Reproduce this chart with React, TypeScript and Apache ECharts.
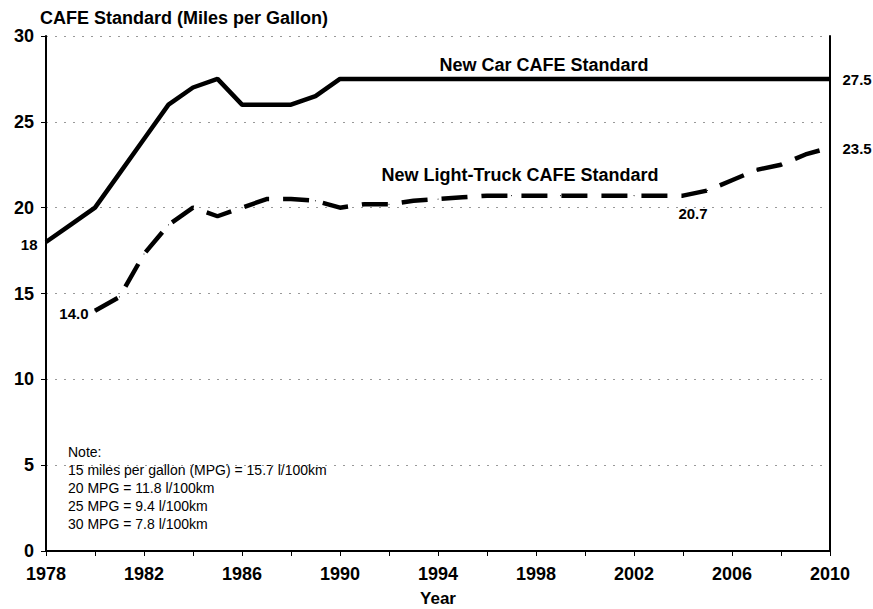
import React, { useEffect, useRef } from "react";
import * as echarts from "echarts";

const carYears = [1978, 1979, 1980, 1981, 1982, 1983, 1984, 1985, 1986, 1987, 1988, 1989, 1990, 1991, 1992, 1993, 1994, 1995, 1996, 1997, 1998, 1999, 2000, 2001, 2002, 2003, 2004, 2005, 2006, 2007, 2008, 2009, 2010];
const carValues = [18, 19, 20, 22, 24, 26, 27, 27.5, 26, 26, 26, 26.5, 27.5, 27.5, 27.5, 27.5, 27.5, 27.5, 27.5, 27.5, 27.5, 27.5, 27.5, 27.5, 27.5, 27.5, 27.5, 27.5, 27.5, 27.5, 27.5, 27.5, 27.5];
const truckYears = [1980, 1981, 1982, 1983, 1984, 1985, 1986, 1987, 1988, 1989, 1990, 1991, 1992, 1993, 1994, 1995, 1996, 1997, 1998, 1999, 2000, 2001, 2002, 2003, 2004, 2005, 2006, 2007, 2008, 2009, 2010];
const truckValues = [14.0, 14.8, 17.3, 19.0, 20.0, 19.5, 20.0, 20.5, 20.5, 20.4, 20.0, 20.2, 20.2, 20.4, 20.5, 20.6, 20.7, 20.7, 20.7, 20.7, 20.7, 20.7, 20.7, 20.7, 20.7, 21.0, 21.6, 22.2, 22.5, 23.1, 23.5];
const noteLines = [
  "Note:",
  "15 miles per gallon (MPG) = 15.7 l/100km",
  "20 MPG = 11.8 l/100km",
  "25 MPG = 9.4 l/100km",
  "30 MPG = 7.8 l/100km",
];
const title = "CAFE Standard (Miles per Gallon)";
const xAxisTitle = "Year";
const carName = "New Car CAFE Standard";
const truckName = "New Light-Truck CAFE Standard";

const FONT = "Arial, 'Liberation Sans', Helvetica, sans-serif";

export default function App() {
  const ref = useRef<HTMLDivElement>(null);
  useEffect(() => {
    if (!ref.current) return;
    const chart = echarts.init(ref.current, null, { renderer: "svg" });
    const boldLabel = { color: "#000", fontFamily: FONT, fontWeight: "bold", fontSize: 15 };

    const carData = carYears.map((y, i) => {
      const item: any = { value: [y, carValues[i]] };
      if (i === 0) item.label = { show: true, position: "left", distance: 8, offset: [0, 2], formatter: String(carValues[i]), ...boldLabel };
      if (i === carYears.length - 1) item.label = { show: true, position: "right", distance: 12, offset: [0, 1], formatter: carValues[i].toFixed(1), ...boldLabel };
      return item;
    });
    const truckData = truckYears.map((y, i) => {
      const item: any = { value: [y, truckValues[i]] };
      if (i === 0) item.label = { show: true, position: "left", distance: 6, offset: [0, 3], formatter: truckValues[i].toFixed(1), ...boldLabel };
      if (y === 2004) item.label = { show: true, position: "bottom", distance: 10, offset: [10, 0], formatter: truckValues[i].toFixed(1), ...boldLabel };
      if (i === truckYears.length - 1) item.label = { show: true, position: "right", distance: 12, offset: [0, 1], formatter: truckValues[i].toFixed(1), ...boldLabel };
      return item;
    });

    chart.setOption({
      animation: false,
      backgroundColor: "#fff",
      grid: { left: 46, right: 43, top: 36, bottom: 58, outerBoundsMode: "none", containLabel: false },
      xAxis: {
        type: "value",
        min: 1978,
        max: 2010,
        interval: 2,
        axisLine: { show: true, lineStyle: { color: "#000", width: 2 } },
        axisTick: { show: true, inside: false, length: 5, lineStyle: { color: "#000", width: 1 } },
        axisLabel: {
          color: "#000",
          fontFamily: FONT,
          fontWeight: "bold",
          fontSize: 18,
          margin: 14,
          formatter: (v: number) => ((v - 1978) % 4 === 0 ? String(v) : ""),
        },
        splitLine: { show: false },
      },
      yAxis: [
        {
          type: "value",
          min: 0,
          max: 30,
          interval: 5,
          axisLine: { show: true, lineStyle: { color: "#000", width: 2 } },
          axisTick: { show: true, inside: false, length: 5, lineStyle: { color: "#000", width: 1 } },
          axisLabel: { color: "#000", fontFamily: FONT, fontWeight: "bold", fontSize: 18, margin: 12 },
          splitLine: { show: true, lineStyle: { color: "#999", type: [2, 7], width: 1 } },
        },
        {
          type: "value",
          position: "right",
          min: 0,
          max: 30,
          interval: 5,
          axisLine: { show: true, lineStyle: { color: "#000", width: 2 } },
          axisTick: { show: false },
          axisLabel: { show: false },
          splitLine: { show: false },
        },
      ],
      series: [
        {
          name: carName,
          type: "line",
          data: carData,
          symbol: "circle",
          symbolSize: 1,
          showSymbol: true,
          itemStyle: { color: "#000" },
          lineStyle: { color: "#000", width: 4.5, type: "solid" },
          z: 3,
        },
        {
          name: truckName,
          type: "line",
          data: truckData,
          symbol: "circle",
          symbolSize: 1,
          showSymbol: true,
          itemStyle: { color: "#000" },
          lineStyle: { color: "#000", width: 4.5, type: [26, 14], cap: "butt" },
          z: 3,
        },
      ],
      graphic: [
        { type: "text", x: 40, y: 18, style: { text: title, fill: "#000", font: `bold 18px ${FONT}`, textVerticalAlign: "middle" } },
        { type: "text", x: 438, y: 598, style: { text: xAxisTitle, fill: "#000", font: `bold 17px ${FONT}`, textAlign: "center", textVerticalAlign: "middle" } },
        { type: "text", x: 544, y: 65, style: { text: carName, fill: "#000", font: `bold 18px ${FONT}`, textAlign: "center", textVerticalAlign: "middle" } },
        { type: "text", x: 520, y: 175, style: { text: truckName, fill: "#000", font: `bold 18px ${FONT}`, textAlign: "center", textVerticalAlign: "middle" } },
        ...noteLines.map((t, i) => ({
          type: "text",
          x: 68,
          y: 452 + i * 18,
          style: { text: t, fill: "#000", font: `14px ${FONT}`, textVerticalAlign: "middle" },
        })),
      ],
    });
    return () => chart.dispose();
  }, []);
  return <div ref={ref} style={{ width: 873, height: 609, position: "absolute", left: 0, top: 0 }} />;
}
